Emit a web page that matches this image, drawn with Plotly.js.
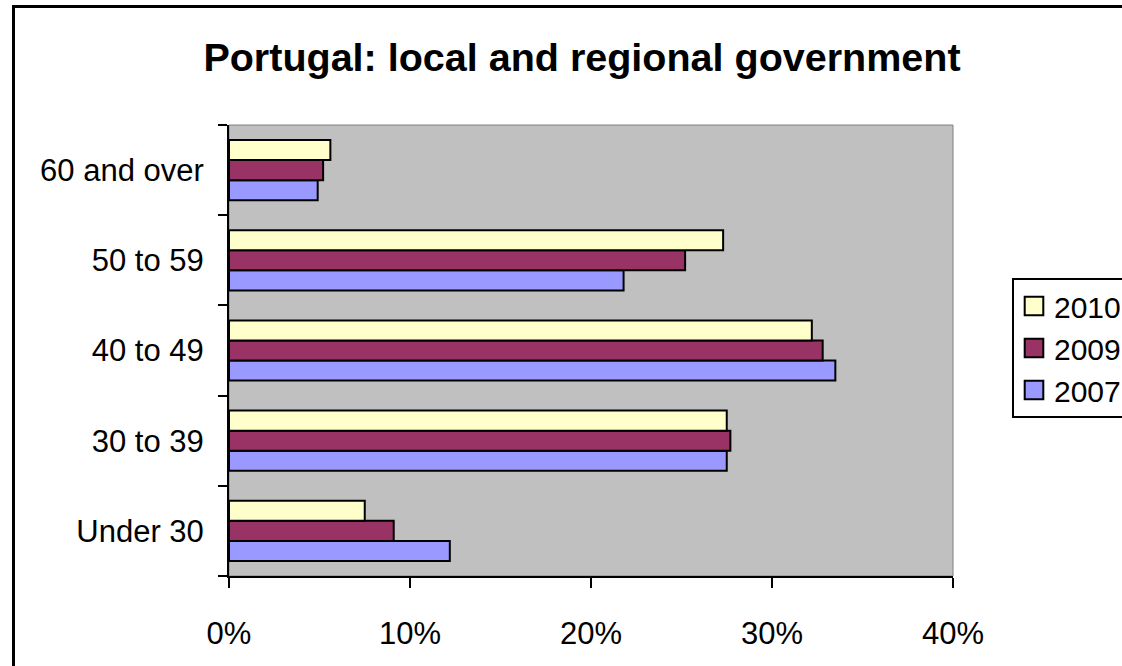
<!DOCTYPE html>
<html>
<head>
<meta charset="utf-8">
<script src="https://cdn.plot.ly/plotly-3.0.1.min.js"></script>
<style>
  html, body { margin: 0; padding: 0; overflow: hidden; background: #ffffff; }
  #chart { width: 1180px; height: 700px; }
</style>
</head>
<body>
<div id="chart"></div>
<script>
// Data
const categories = ['Under 30', '30 to 39', '40 to 49', '50 to 59', '60 and over'];
const seriesNames = ['2007', '2009', '2010'];
const values2007 = [0.122, 0.275, 0.335, 0.218, 0.049];
const values2009 = [0.091, 0.277, 0.328, 0.252, 0.052];
const values2010 = [0.075, 0.275, 0.322, 0.273, 0.056];
const xTickVals = [0, 0.1, 0.2, 0.3, 0.4];
const xTickText = ['0%', '10%', '20%', '30%', '40%'];
const titleText = 'Portugal: local and regional government';

const colors = ['#9999FF', '#993366', '#FFFFCC'];
const allValues = [values2007, values2009, values2010];

const traces = allValues.map((vals, i) => ({
  type: 'bar',
  orientation: 'h',
  name: seriesNames[i],
  x: vals,
  y: categories,
  marker: { color: colors[i], line: { color: '#000000', width: 2 } },
  hoverinfo: 'skip'
}));

const W = 1180, H = 700;
const L = 229, R = 953, T = 125, B = 576;
const pw = R - L, ph = B - T;
const px = v => (v - L) / pw;
const py = v => (B - v) / ph;

const layout = {
  width: W,
  height: H,
  margin: { l: L, r: W - R, t: T, b: H - B, pad: 0 },
  paper_bgcolor: '#ffffff',
  plot_bgcolor: '#C0C0C0',
  font: { family: 'Liberation Sans, Arial, sans-serif', color: '#000000' },
  barmode: 'group',
  bargap: 0.333,
  bargroupgap: 0,
  title: {
    text: '<b>' + titleText + '</b>',
    font: { family: 'Liberation Sans, Arial, sans-serif', size: 39.5, color: '#000000' },
    xref: 'paper', x: px(582), xanchor: 'center',
    yref: 'container', y: 1 - 57 / H, yanchor: 'middle'
  },
  xaxis: {
    range: [0, 0.4],
    tickvals: xTickVals,
    ticktext: xTickText,
    ticks: 'outside', ticklen: 10, tickwidth: 2, tickcolor: '#000000',
    showline: true, linecolor: '#000000', linewidth: 2,
    showgrid: false, zeroline: false,
    tickfont: { size: 31, color: '#000000' },
    ticklabelstandoff: 19,
    fixedrange: true
  },
  yaxis: {
    type: 'category',
    categoryorder: 'array', categoryarray: categories,
    tickson: 'boundaries',
    ticks: 'outside', ticklen: 9, tickwidth: 2, tickcolor: '#000000',
    showline: true, linecolor: '#000000', linewidth: 2,
    showgrid: false, zeroline: false,
    tickfont: { size: 31, color: '#000000' },
    ticklabelstandoff: 17,
    fixedrange: true
  },
  showlegend: true,
  legend: {
    x: px(1012), xanchor: 'left',
    y: py(278), yanchor: 'top',
    traceorder: 'reversed',
    bgcolor: '#ffffff', bordercolor: '#000000', borderwidth: 2,
    font: { size: 30, color: '#000000' },
    itemwidth: 30
  },
  shapes: [
    { type: 'rect', xref: 'paper', yref: 'paper', x0: 0, x1: 1, y0: 0, y1: 1,
      line: { color: '#808080', width: 1 }, layer: 'below' },
    { type: 'rect', xref: 'paper', yref: 'paper',
      x0: px(13.5), x1: px(1170), y0: py(690), y1: py(6.5),
      line: { color: '#000000', width: 3 }, fillcolor: 'rgba(0,0,0,0)', layer: 'above' }
  ]
};

Plotly.newPlot('chart', traces, layout, { displayModeBar: false, staticPlot: true }).then(gd => {
  // enlarge legend swatches to match the reference's larger squares
  gd.querySelectorAll('.legend .legendpoints path').forEach(p => {
    const t = p.getAttribute('transform') || '';
    p.setAttribute('transform', t + ' scale(1.55)');
    p.style.strokeWidth = '1.3px';
  });
});
</script>
</body>
</html>
